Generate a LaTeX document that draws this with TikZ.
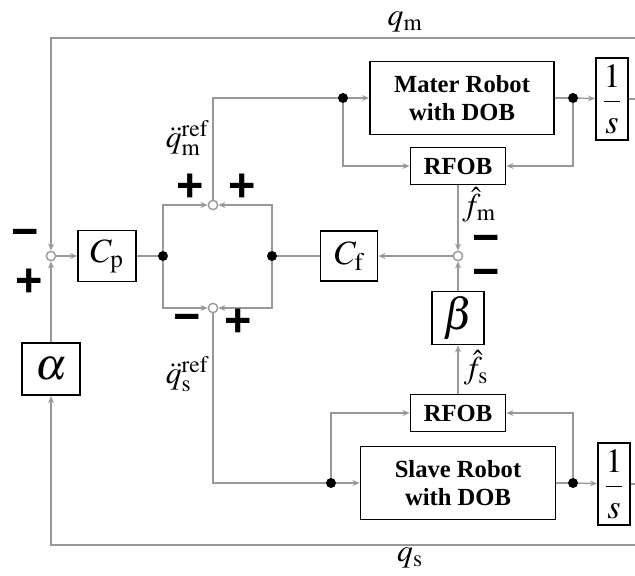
\documentclass[tikz,border=0pt]{standalone}
\usepackage{amsmath}
\usepackage{mathptmx}
\usepackage[no-math]{fontspec}
\setmainfont{Liberation Serif}
\newfontfamily\signfont{Liberation Sans}
\usetikzlibrary{arrows.meta}

\tikzset{
  wire/.style={draw=gray!80, line width=1.2pt},
  arr/.style={-{Stealth[length=6pt,width=5pt]}},
  blk/.style={draw=black, line width=1.6pt, fill=white, inner sep=0pt, align=center},
  txtblk/.style={blk, font=\fontsize{21}{24}\selectfont\bfseries},
  mathblk/.style={blk, font=\fontsize{29}{31}\selectfont},
  greekblk/.style={blk, font=\fontsize{38}{40}\selectfont},
  sumc/.style={circle, draw=gray!80, line width=1.2pt, fill=white, inner sep=0pt, minimum size=0.28cm},
  dotn/.style={circle, fill=black, inner sep=0pt, minimum size=0.3cm},
  sig/.style={font=\signfont\bfseries\fontsize{40}{40}\selectfont, inner sep=0pt},
  lbl/.style={font=\fontsize{27}{29}\selectfont, inner sep=0pt}
}

\begin{document}
\begin{tikzpicture}[x=0.03cm, y=-0.03cm]
  \useasboundingbox (0,0) rectangle (635,575);

  % blocks
  \node [mathblk, minimum width=1.74cm, minimum height=1.53cm] (cp) at (107,256) {$C_{\mathrm{p}}$};
  \node [mathblk, minimum width=1.71cm, minimum height=1.5cm] (cf) at (349,256) {$C_{\mathrm{f}}$};
  \node [greekblk, minimum width=1.74cm, minimum height=1.56cm] (alpha) at (51,369) {$\alpha$};
  \node [greekblk, minimum width=1.56cm, minimum height=1.59cm] (beta) at (458,318) {$\beta$};
  \node [txtblk, minimum width=5.52cm, minimum height=2.19cm] (mrob) at (462,98) {Mater Robot\\with DOB};
  \node [txtblk, minimum width=5.85cm, minimum height=2.19cm] (srob) at (458,483) {Slave Robot\\with DOB};
  \node [txtblk, minimum width=2.85cm, minimum height=1.11cm] (mrfob) at (458,166) {RFOB};
  \node [txtblk, minimum width=2.85cm, minimum height=1.11cm] (srfob) at (458,413) {RFOB};
  \node [mathblk, minimum width=0.96cm, minimum height=2.46cm] (mint) at (612,99) {$\dfrac{1}{s}$};
  \node [mathblk, minimum width=0.96cm, minimum height=2.46cm] (sint) at (614,484) {$\dfrac{1}{s}$};

  % summing points and branch dots
  \node [sumc] (sumL) at (51,256) {};
  \node [sumc] (sumU) at (213,205) {};
  \node [sumc] (sumD) at (213,308) {};
  \node [sumc] (sumF) at (458,256) {};
  \node [dotn] (d1) at (163,256) {};
  \node [dotn] (d2) at (272,256) {};
  \node [dotn] (dm1) at (343,98) {};
  \node [dotn] (dm2) at (573,98) {};
  \node [dotn] (ds1) at (331,483) {};
  \node [dotn] (ds2) at (573,483) {};
  \coordinate (qmR) at (635,38);
  \coordinate (qsR) at (635,545);

  % position loop
  \draw [wire, arr] (qmR) -| (sumL);
  \draw [wire, arr] (qsR) -| (alpha);
  \draw [wire, arr] (alpha) -- (sumL);
  \draw [wire, arr] (sumL) -- (cp);
  \draw [wire] (cp) -- (d1);
  \draw [wire, arr] (d1) |- (sumU);
  \draw [wire, arr] (d1) |- (sumD);
  \draw [wire, arr] (d2) |- (sumU);
  \draw [wire, arr] (d2) |- (sumD);

  % master side
  \draw [wire] (sumU) |- (dm1);
  \draw [wire, arr] (dm1) -- (mrob);
  \draw [wire, arr] (dm1) |- (mrfob);
  \draw [wire] (mrob) -- (dm2);
  \draw [wire, arr] (dm2) -- (mint);
  \draw [wire, arr] (dm2) |- (mrfob);
  \draw [wire] (mint.east) -- (mint.east -| qmR);

  % slave side
  \draw [wire] (sumD) |- (ds1);
  \draw [wire, arr] (ds1) -- (srob);
  \draw [wire, arr] (ds1) |- (srfob);
  \draw [wire] (srob) -- (ds2);
  \draw [wire, arr] (ds2) -- (sint);
  \draw [wire, arr] (ds2) |- (srfob);
  \draw [wire] (sint.east) -- (sint.east -| qsR);

  % force loop
  \draw [wire, arr] (mrfob) -- (sumF);
  \draw [wire, arr] (srfob) -- (beta);
  \draw [wire, arr] (beta) -- (sumF);
  \draw [wire, arr] (sumF) -- (cf);
  \draw [wire] (cf) -- (d2);

  % signs
  \node [sig] (sgL1) at (25,238) {−};
  \node [sig] (sgL2) at (29,283) {+};
  \node [sig] (sgU1) at (190,188) {+};
  \node [sig] (sgU2) at (242,188) {+};
  \node [sig] (sgD1) at (187,323) {−};
  \node [sig] (sgD2) at (238,323) {+};
  \node [sig] (sgF1) at (486,244) {−};
  \node [sig] (sgF2) at (486,278) {−};

  % signal labels
  \node [lbl] (qm) at (405,22) {$q_{\mathrm{m}}$};
  \node [lbl] (qs) at (410,558) {$q_{\mathrm{s}}$};
  \node [lbl] (qmref) at (187,138) {$\ddot{q}_{\mathrm{m}}^{\mathrm{ref}}$};
  \node [lbl] (qsref) at (187,374) {$\ddot{q}_{\mathrm{s}}^{\mathrm{ref}}$};
  \node [lbl] (fm) at (479,205) {$\hat{f}_{\mathrm{m}}$};
  \node [lbl] (fs) at (476,368) {$\hat{f}_{\mathrm{s}}$};
\end{tikzpicture}
\end{document}
